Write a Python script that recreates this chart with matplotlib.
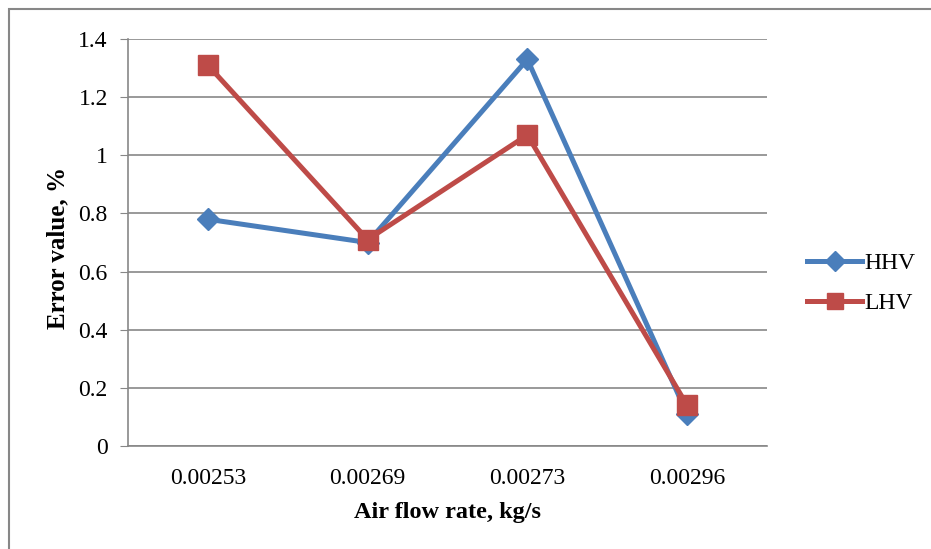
import matplotlib.pyplot as plt
from matplotlib.patches import Rectangle

# data
flow_rates = ["0.00253", "0.00269", "0.00273", "0.00296"]
hhv = [0.78, 0.70, 1.33, 0.11]
lhv = [1.31, 0.71, 1.07, 0.14]

plt.rcParams['font.family'] = ['Liberation Serif', 'DejaVu Serif']

fig = plt.figure(figsize=(9.31, 5.49), dpi=100)
fig.patches.append(Rectangle((9 / 931, -0.1), 1.2, (549 - 9) / 549 + 0.1,
                             transform=fig.transFigure, fill=False,
                             edgecolor='#878787', linewidth=1.5))

ax = fig.add_axes([0.1375, 0.1876, 0.6863, 0.7413])
x = list(range(len(flow_rates)))
ax.plot(x, hhv, color='#4A7EBB', linewidth=3.6, marker='D', markersize=11.5,
        label='HHV', zorder=3)
ax.plot(x, lhv, color='#BE4B48', linewidth=3.6, marker='s', markersize=14,
        label='LHV', zorder=4)

ax.set_xlim(-0.5, 3.5)
ax.set_ylim(0, 1.4)
ax.set_yticks([0, 0.2, 0.4, 0.6, 0.8, 1, 1.2, 1.4])
ax.set_yticklabels(["0", "0.2", "0.4", "0.6", "0.8", "1", "1.2", "1.4"])
ax.set_xticks(x)
ax.set_xticklabels(flow_rates)
ax.tick_params(axis='x', length=0, labelsize=17, pad=16)
ax.tick_params(axis='y', length=6, color='#878787', labelsize=17, pad=8.5)
ax.grid(axis='y', color='#878787', linewidth=1.2)
ax.set_axisbelow(True)
for side in ['top', 'right']:
    ax.spines[side].set_visible(False)
for side in ['left', 'bottom']:
    ax.spines[side].set_color('#878787')
    ax.spines[side].set_linewidth(1.2)

ax.set_xlabel('Air flow rate, kg/s', fontsize=17.5, fontweight='bold', labelpad=9)
ax.set_ylabel('Error value, %', fontsize=18, fontweight='bold')
ax.yaxis.set_label_coords(-0.092, 0.487)

ax.legend(loc='center left', bbox_to_anchor=(1.03, 0.4), frameon=False,
          fontsize=17, handlelength=2.3, labelspacing=0.8, handletextpad=0.1,
          markerscale=0.85)

fig.savefig('out.png', dpi=100)
